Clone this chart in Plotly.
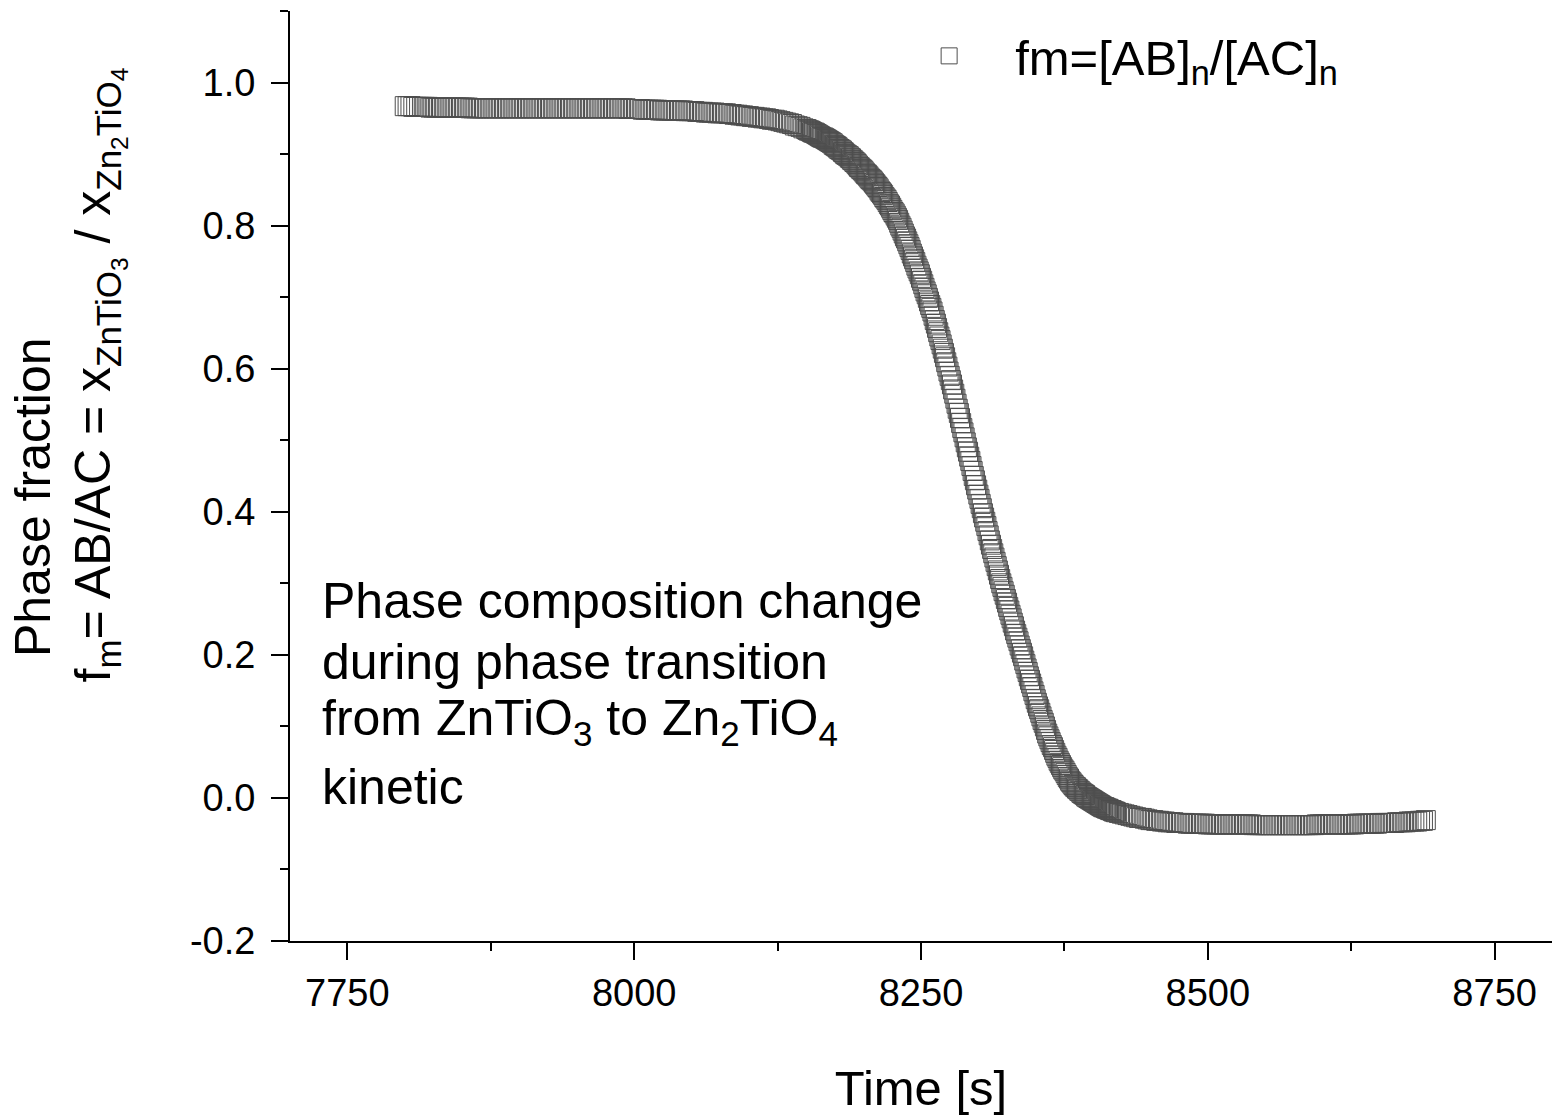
import plotly.graph_objects as go

# ---- data ----
# segment 1: plateau, 7800 .. 8147.5 s, every 2.5 s
t1_start, t1_step = 7800.0, 2.5
fm_seg1 = [
    0.967, 0.967, 0.967, 0.966, 0.966, 0.966, 0.966, 0.966, 0.966, 0.965,
    0.965, 0.965, 0.965, 0.965, 0.965, 0.965, 0.965, 0.965, 0.965, 0.965,
    0.965, 0.965, 0.965, 0.964, 0.964, 0.964, 0.964, 0.964, 0.964, 0.964,
    0.964, 0.964, 0.964, 0.964, 0.964, 0.964, 0.964, 0.964, 0.964, 0.964,
    0.964, 0.964, 0.964, 0.964, 0.964, 0.964, 0.964, 0.964, 0.964, 0.964,
    0.964, 0.964, 0.964, 0.964, 0.964, 0.964, 0.964, 0.964, 0.964, 0.964,
    0.964, 0.964, 0.964, 0.964, 0.964, 0.964, 0.964, 0.964, 0.964, 0.964,
    0.964, 0.964, 0.964, 0.964, 0.964, 0.964, 0.964, 0.964, 0.963, 0.963,
    0.963, 0.963, 0.963, 0.962, 0.962, 0.962, 0.962, 0.962, 0.962, 0.961,
    0.961, 0.961, 0.961, 0.961, 0.961, 0.961, 0.961, 0.961, 0.960, 0.960,
    0.960, 0.960, 0.959, 0.959, 0.959, 0.958, 0.958, 0.958, 0.958, 0.957,
    0.957, 0.957, 0.957, 0.956, 0.956, 0.955, 0.955, 0.954, 0.954, 0.953,
    0.953, 0.952, 0.952, 0.951, 0.951, 0.950, 0.950, 0.949, 0.948, 0.948,
    0.947, 0.946, 0.945, 0.944, 0.943, 0.942, 0.940, 0.939, 0.938, 0.936,
]
# segment 2: transition, 8150 .. 8420 s, every 1 s
t2_start, t2_step = 8150.0, 1.0
fm_seg2 = [
    0.935, 0.934, 0.933, 0.933, 0.932, 0.931, 0.930, 0.930, 0.929, 0.928,
    0.927, 0.926, 0.925, 0.924, 0.923, 0.923, 0.922, 0.921, 0.920, 0.919,
    0.918, 0.917, 0.916, 0.915, 0.913, 0.912, 0.911, 0.910, 0.908, 0.907,
    0.906, 0.905, 0.903, 0.902, 0.900, 0.899, 0.898, 0.897, 0.895, 0.894,
    0.892, 0.891, 0.889, 0.888, 0.886, 0.884, 0.882, 0.881, 0.879, 0.878,
    0.876, 0.874, 0.872, 0.871, 0.869, 0.867, 0.865, 0.864, 0.862, 0.860,
    0.858, 0.856, 0.854, 0.852, 0.849, 0.847, 0.845, 0.843, 0.840, 0.838,
    0.836, 0.833, 0.830, 0.828, 0.825, 0.822, 0.819, 0.817, 0.814, 0.811,
    0.808, 0.804, 0.800, 0.797, 0.793, 0.789, 0.785, 0.782, 0.778, 0.774,
    0.770, 0.766, 0.761, 0.757, 0.753, 0.749, 0.744, 0.740, 0.736, 0.732,
    0.727, 0.723, 0.718, 0.713, 0.708, 0.704, 0.699, 0.694, 0.689, 0.685,
    0.680, 0.674, 0.668, 0.663, 0.657, 0.651, 0.645, 0.640, 0.634, 0.628,
    0.622, 0.616, 0.609, 0.603, 0.596, 0.590, 0.584, 0.578, 0.571, 0.565,
    0.558, 0.551, 0.544, 0.538, 0.531, 0.524, 0.517, 0.511, 0.504, 0.497,
    0.490, 0.484, 0.477, 0.471, 0.464, 0.457, 0.450, 0.444, 0.437, 0.431,
    0.424, 0.418, 0.411, 0.405, 0.398, 0.392, 0.386, 0.380, 0.373, 0.367,
    0.360, 0.354, 0.348, 0.342, 0.336, 0.330, 0.324, 0.318, 0.312, 0.306,
    0.300, 0.295, 0.289, 0.284, 0.278, 0.273, 0.267, 0.262, 0.256, 0.251,
    0.245, 0.240, 0.234, 0.229, 0.224, 0.219, 0.213, 0.208, 0.203, 0.198,
    0.192, 0.187, 0.181, 0.176, 0.170, 0.165, 0.160, 0.155, 0.149, 0.144,
    0.138, 0.133, 0.128, 0.124, 0.119, 0.114, 0.109, 0.105, 0.100, 0.095,
    0.090, 0.086, 0.082, 0.078, 0.074, 0.071, 0.067, 0.063, 0.059, 0.056,
    0.052, 0.049, 0.046, 0.043, 0.040, 0.038, 0.035, 0.032, 0.029, 0.027,
    0.024, 0.022, 0.020, 0.018, 0.016, 0.015, 0.013, 0.012, 0.010, 0.009,
    0.007, 0.006, 0.005, 0.004, 0.002, 0.001, 0.000, -0.001, -0.002, -0.003,
    -0.004, -0.005, -0.006, -0.007, -0.008, -0.009, -0.010, -0.011, -0.012, -0.013,
    -0.013, -0.014, -0.015, -0.015, -0.016, -0.017, -0.017, -0.018, -0.019, -0.019,
    -0.020,
]
# segment 3: final plateau, 8422.5 .. 8690 s, every 2.5 s
t3_start, t3_step = 8422.5, 2.5
fm_seg3 = [
    -0.021, -0.022, -0.023, -0.024, -0.025, -0.026, -0.027, -0.028, -0.028, -0.029,
    -0.030, -0.031, -0.031, -0.032, -0.032, -0.033, -0.033, -0.034, -0.034, -0.034,
    -0.035, -0.035, -0.035, -0.035, -0.036, -0.036, -0.036, -0.036, -0.036, -0.036,
    -0.036, -0.037, -0.037, -0.037, -0.037, -0.037, -0.037, -0.037, -0.037, -0.037,
    -0.037, -0.037, -0.037, -0.037, -0.037, -0.037, -0.037, -0.038, -0.038, -0.038,
    -0.038, -0.038, -0.038, -0.038, -0.038, -0.038, -0.038, -0.038, -0.038, -0.038,
    -0.038, -0.038, -0.038, -0.038, -0.038, -0.038, -0.038, -0.038, -0.038, -0.037,
    -0.037, -0.037, -0.037, -0.037, -0.037, -0.037, -0.037, -0.037, -0.037, -0.037,
    -0.037, -0.037, -0.037, -0.036, -0.036, -0.036, -0.036, -0.036, -0.036, -0.036,
    -0.036, -0.035, -0.035, -0.035, -0.035, -0.035, -0.035, -0.034, -0.034, -0.034,
    -0.034, -0.033, -0.033, -0.033, -0.033, -0.032, -0.032, -0.031,
]

x_tickvals = [7750, 8000, 8250, 8500, 8750]
y_tickvals = [-0.2, 0.0, 0.2, 0.4, 0.6, 0.8, 1.0]
y_ticktext = ["-0.2", "0.0", "0.2", "0.4", "0.6", "0.8", "1.0"]

time = ([t1_start + t1_step * i for i in range(len(fm_seg1))]
        + [t2_start + t2_step * i for i in range(len(fm_seg2))]
        + [t3_start + t3_step * i for i in range(len(fm_seg3))])
fm = fm_seg1 + fm_seg2 + fm_seg3

FONT = "Liberation Sans, Arial, sans-serif"

fig = go.Figure()
fig.add_trace(go.Scatter(
    x=time, y=fm, mode="markers",
    name="fm=[AB]<sub>n</sub>/[AC]<sub>n</sub>",
    marker=dict(symbol="square-open", size=19, color="#4e4e4e",
                line=dict(width=1, color="#4e4e4e")),
))

axis_common = dict(
    showline=True, linewidth=2, linecolor="black",
    ticks="outside", ticklen=17, tickwidth=2, tickcolor="black",
    showgrid=False, zeroline=False,
    tickfont=dict(family=FONT, size=38, color="black"),
)

fig.update_xaxes(
    range=[7700, 8800], tickvals=x_tickvals,
    minor=dict(ticks="outside", ticklen=8, tickwidth=2, tickcolor="black", dtick=125, tick0=7750),
    title=dict(text="Time [s]", font=dict(family=FONT, size=49, color="black"), standoff=58),
    **axis_common,
)
fig.update_yaxes(
    range=[-0.2, 1.1], tickvals=y_tickvals, ticktext=y_ticktext,
    minor=dict(ticks="outside", ticklen=8, tickwidth=2, tickcolor="black", dtick=0.1, tick0=0),
    ticklabelstandoff=8,
    **axis_common,
)

annots = [
    dict(text="Phase fraction", x=-0.2036, y=0.4774, textangle=-90,
         xanchor="center", yanchor="middle", font=dict(size=50)),
    dict(text="f<sub>m</sub>= AB/AC = x<sub>ZnTiO<sub>3</sub></sub> / x<sub>Zn<sub>2</sub>TiO<sub>4</sub></sub>",
         x=-0.1510, y=0.6086, textangle=-90, xanchor="center", yanchor="middle", font=dict(size=50)),
    dict(text="Phase composition change", x=0.0238, y=0.3651,
         xanchor="left", yanchor="middle", font=dict(size=50)),
    dict(text="during phase transition", x=0.0238, y=0.3005,
         xanchor="left", yanchor="middle", font=dict(size=50)),
    dict(text="from ZnTiO<sub>3</sub> to Zn<sub>2</sub>TiO<sub>4</sub>", x=0.0238, y=0.2360,
         xanchor="left", yanchor="middle", font=dict(size=50)),
    dict(text="kinetic", x=0.0238, y=0.1661, xanchor="left", yanchor="middle",
         font=dict(size=50)),
]
for a in annots:
    a["font"].update(family=FONT, color="black")
    fig.add_annotation(xref="paper", yref="paper", showarrow=False, **a)

fig.update_layout(
    width=1554, height=1115,
    margin=dict(l=290, r=2, t=11, b=174),
    paper_bgcolor="white", plot_bgcolor="white",
    showlegend=True,
    legend=dict(x=0.47, y=0.993, xanchor="left", yanchor="top",
                bgcolor="rgba(0,0,0,0)", itemwidth=122,
                font=dict(family=FONT, size=49, color="black")),
)

fig.write_html("out.html")
